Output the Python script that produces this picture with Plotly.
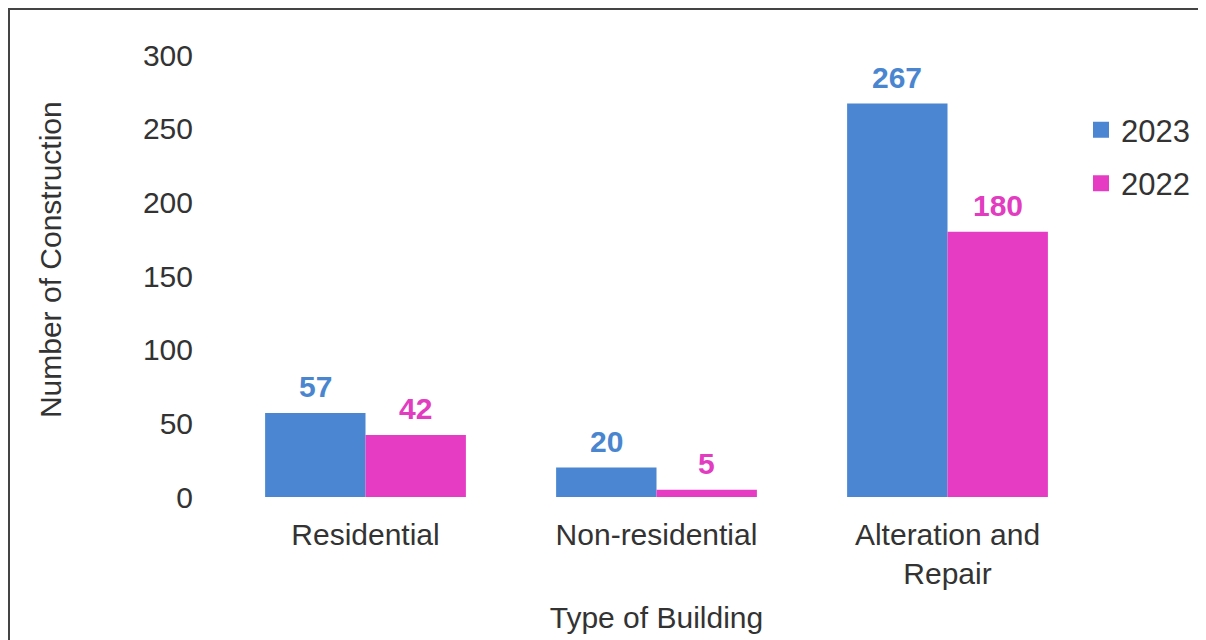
import plotly.graph_objects as go

categories = ["Residential", "Non-residential", "Alteration and<br>Repair"]
years = ["2023", "2022"]
values_2023 = [57, 20, 267]
values_2022 = [42, 5, 180]
y_ticks = [0, 50, 100, 150, 200, 250, 300]

bar_colors = {"2023": "#4a86d2", "2022": "#e63cc4"}
label_colors = {"2023": "#4a86cf", "2022": "#e23cc0"}
font_family = "Liberation Sans, Arial, sans-serif"
text_color = "#333333"

W, H = 1206, 640
ML, MR, MT, MB = 212, 121, 47, 151
plot_w = W - ML - MR
plot_h = H - MT - MB
bargap = 0.31
bar_px = (1 - bargap) * plot_w / 3 / 2

fig = go.Figure()
series = [("2023", values_2023, -1), ("2022", values_2022, 1)]
for yr, vals, side in series:
    fig.add_trace(go.Bar(
        x=categories, y=vals, name=yr, showlegend=False,
        marker=dict(color=bar_colors[yr], line=dict(width=0)),
        hoverinfo="x+y",
    ))
for i, (yr, vals, side) in enumerate(series):
    fig.add_trace(go.Scatter(
        x=[None], y=[None], name=yr, mode="markers",
        marker=dict(symbol="square", size=16, color=bar_colors[yr]),
        legendgroup=f"g{i}",
    ))
    for cat, v in zip(categories, vals):
        fig.add_annotation(
            x=cat, y=v, xref="x", yref="y", text=f"<b>{v}</b>",
            showarrow=False, yanchor="bottom", xanchor="center",
            xshift=side * bar_px / 2, yshift=8,
            font=dict(family=font_family, size=30, color=label_colors[yr]),
        )

# y-axis title placed as rotated annotation to match the reference position
fig.add_annotation(
    x=(42 - ML) / plot_w, y=0.536, xref="paper", yref="paper",
    text="Number of Construction", textangle=-90, showarrow=False,
    xanchor="center", yanchor="middle",
    font=dict(family=font_family, size=30, color=text_color),
)

fig.update_layout(
    width=W, height=H,
    margin=dict(l=ML, r=MR, t=MT, b=MB),
    paper_bgcolor="white", plot_bgcolor="white",
    barmode="group", bargap=bargap, bargroupgap=0,
    font=dict(family=font_family, size=30, color=text_color),
    showlegend=True,
    legend=dict(x=1 - 12 / plot_w, xanchor="left", y=0.891, yanchor="top",
                font=dict(size=31, color=text_color),
                itemwidth=30, tracegroupgap=10, bgcolor="rgba(0,0,0,0)"),
)
fig.update_xaxes(
    showgrid=False, showline=False, zeroline=False,
    range=[-0.5, 2.5], ticks="", ticklabelstandoff=17,
    tickfont=dict(size=30, color=text_color),
    title=dict(text="Type of Building", font=dict(size=30, color=text_color), standoff=17),
)
fig.update_yaxes(
    range=[0, 300], tickvals=y_ticks, showgrid=False, showline=False, zeroline=False,
    ticks="", ticklabelstandoff=26, tickfont=dict(size=30, color=text_color),
)

# outer frame (top and left edges visible in the reference)
fig.add_shape(type="rect", xref="paper", yref="paper",
              x0=(1 - ML) / plot_w, x1=1.3, y0=-0.5, y1=1 + (MT - 1) / plot_h,
              line=dict(color="#444444", width=2), fillcolor="rgba(0,0,0,0)", layer="below")

fig.write_html("out.html")
